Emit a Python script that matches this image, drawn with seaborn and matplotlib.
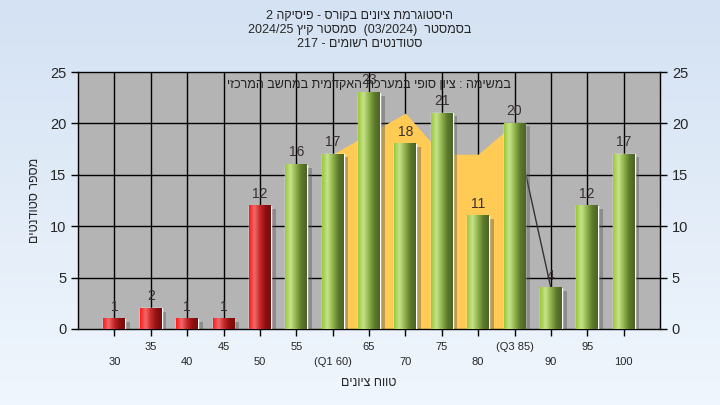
import numpy as np
import pandas as pd
import matplotlib
matplotlib.use("Agg")
import matplotlib.pyplot as plt
from matplotlib.colors import LinearSegmentedColormap
from matplotlib.patches import Rectangle
import seaborn as sns

# data
grades = [30, 35, 40, 45, 50, 55, 60, 65, 70, 75, 80, 85, 90, 95, 100]
tick_labels = ['30', '35', '40', '45', '50', '55', '(Q1 60)', '65', '70', '75',
               '80', '(Q3 85)', '90', '95', '100']
counts = [1, 2, 1, 1, 12, 16, 17, 23, 18, 21, 11, 20, 4, 12, 17]
# orange background series (grades 60..90)
area_grades = [60, 65, 70, 75, 80, 85, 90]
area_vals = [17, 19, 21, 17, 17, 20, 4]

# Hebrew texts (logical order), reversed for drawing
title1 = 'היסטוגרמת ציונים בקורס - פיסיקה'
sem_word = 'בסמסטר'
sem_name = 'סמסטר קיץ'
students = 'סטודנטים רשומים'
note = 'במשימה : ציון סופי במערכת האקדמית במחשב המרכזי'
xlab = 'טווח ציונים'
ylab = 'מספר סטודנטים'


def vis(s):
    return s[::-1]


sns.set_style("white")
plt.rcParams['font.family'] = ['Liberation Sans', 'DejaVu Sans']

df = pd.DataFrame({'grade': [str(g) for g in grades], 'count': counts})
colors = ['#e02020' if g < 55 else '#94c040' for g in grades]

fig = plt.figure(figsize=(7.2, 4.05), dpi=100)

# background gradient
bg = fig.add_axes([0, 0, 1, 1], zorder=-10)
bg.imshow(np.linspace(0, 1, 100).reshape(-1, 1), aspect='auto',
          cmap=LinearSegmentedColormap.from_list('bg', ['#d4e2f3', '#f0f6fd']),
          extent=(0, 1, 0, 1))
bg.axis('off')

ax = fig.add_axes([78 / 720, 76 / 405, 582 / 720, 257 / 405])
ax.set_facecolor('#b4b4b4')

sns.barplot(data=df, x='grade', y='count', order=[str(g) for g in grades],
            palette=colors, hue='grade', legend=False, width=0.6,
            saturation=1, ax=ax, zorder=4)

# grid
for i in range(len(grades)):
    ax.axvline(i, color='black', lw=1, zorder=1)
for yv in [5, 10, 15, 20]:
    ax.axhline(yv, color='black', lw=1, zorder=1)

# orange area
ax_idx = [grades.index(g) for g in area_grades]
ax.fill_between(ax_idx[:-1], area_vals[:-1], 0, color='#ffcb55', lw=0, zorder=2)
ax.plot(ax_idx[-2:], area_vals[-2:], color='#333333', lw=1, zorder=2)

# cylinder gradients and shadows
green_cm = LinearSegmentedColormap.from_list('g', ['#9cc83c', '#c6e38a', '#8fb24a', '#5d7a2c', '#4a6424'])
red_cm = LinearSegmentedColormap.from_list('r', ['#ff1a1a', '#f06a6a', '#c82828', '#901010', '#7a0c0c'])
grad = np.linspace(0, 1, 64).reshape(1, -1)
for i, p in enumerate(ax.patches):
    x0 = p.get_x()
    w = p.get_width()
    h = p.get_height()
    ax.add_patch(Rectangle((x0 + 0.1, 0), w + 0.03, h - 0.3, color='#505050', alpha=0.4,
                           lw=0, zorder=3))
    cm = red_cm if grades[i] < 55 else green_cm
    ax.imshow(grad, aspect='auto', cmap=cm, extent=(x0, x0 + w, 0, h), zorder=5)
    ax.text(i, h + 0.5, str(counts[i]), ha='center', va='bottom', fontsize=10,
            color='#3a3030', zorder=6)

ax.set_xlim(-1, 15)
ax.set_ylim(0, 25)

ax.set_xticks(range(len(grades)))
ax.set_xticklabels([('\n' + t) if i % 2 == 0 else t for i, t in enumerate(tick_labels)],
                   fontsize=8, linespacing=1.7)
ax.set_yticks([0, 5, 10, 15, 20, 25])
ax.tick_params(axis='both', direction='out', length=5, width=1, color='black')
ax.tick_params(axis='y', labelsize=10.5, right=True, labelright=True, left=True)
ax.tick_params(axis='x', bottom=True, pad=4)
for s in ax.spines.values():
    s.set_color('black')
    s.set_linewidth(1)
ax.set_xlabel(vis(xlab), fontsize=9, labelpad=7)
ax.set_ylabel(vis(ylab), fontsize=9, labelpad=6)

ax.text(0.5, 0.95, vis(note), transform=ax.transAxes, ha='center', va='center',
        fontsize=9, color='#222222', zorder=7)

fig.text(0.5, 1 - 16 / 405, '2 ' + vis(title1), ha='center', va='center', fontsize=9)
fig.text(0.5, 1 - 30 / 405, '2024/25 ' + vis(sem_name) + '  (03/2024)  ' + vis(sem_word),
         ha='center', va='center', fontsize=9)
fig.text(0.5, 1 - 44 / 405, '217 - ' + vis(students), ha='center', va='center', fontsize=9)

fig.savefig('out.png', dpi=100)
